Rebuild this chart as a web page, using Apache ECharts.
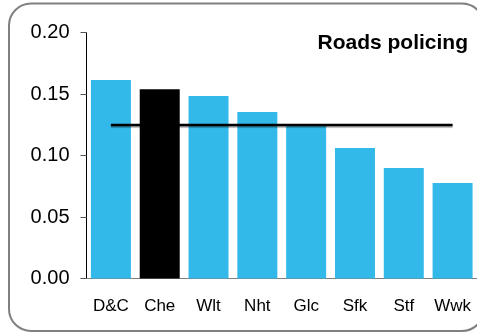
<!DOCTYPE html>
<html>
<head>
<meta charset="utf-8">
<script src="https://cdn.jsdelivr.net/npm/echarts@6/dist/echarts.min.js"></script>
<style>
html,body{margin:0;padding:0;background:#fff;}
#c{width:477px;height:333px;}
</style>
</head>
<body>
<div id="c"></div>
<script>
var categories = ['D&C', 'Che', 'Wlt', 'Nht', 'Glc', 'Sfk', 'Stf', 'Wwk'];
var values = [0.1615, 0.154, 0.1485, 0.1355, 0.124, 0.1062, 0.0899, 0.0777];
var highlightIndex = 1;
var averageValue = 0.125;
var averageLine = categories.map(function(){ return averageValue; });
var yTicks = [0, 0.05, 0.10, 0.15, 0.20];
var titleText = 'Roads policing';

var chart = echarts.init(document.getElementById('c'), null, {renderer: 'canvas'});
var barData = values.map(function(v, i){
  return i === highlightIndex ? {value: v, itemStyle: {color: '#000000'}} : v;
});
chart.setOption({
  animation: false,
  backgroundColor: '#ffffff',
  textStyle: {fontFamily: 'Liberation Sans, Arial, sans-serif'},
  graphic: [
    {type: 'rect', shape: {x: 9, y: 3.5, width: 475, height: 327.5, r: 22},
     style: {fill: 'none', stroke: '#808080', lineWidth: 2}, z: 100},
    {type: 'text', right: 9, top: 33,
     style: {text: titleText, fill: '#000', font: 'bold 21px "Liberation Sans", Arial, sans-serif'}, z: 100}
  ],
  grid: {left: 86.5, top: 32.7, width: 393, bottom: 54.5, containLabel: false},
  xAxis: {
    type: 'category', data: categories,
    axisTick: {show: false},
    axisLine: {lineStyle: {color: '#808080', width: 1}},
    axisLabel: {color: '#000', fontSize: 17, margin: 19, interval: 0, fontFamily: 'Liberation Sans'}
  },
  yAxis: {
    type: 'value', min: 0, max: 0.2, interval: 0.05,
    splitLine: {show: false},
    axisLine: {show: true, lineStyle: {color: '#000', width: 1}},
    axisTick: {show: true, length: 6, lineStyle: {color: '#555'}},
    axisLabel: {color: '#000', fontSize: 20, margin: 17, fontFamily: 'Liberation Sans',
      formatter: function(v){ return v.toFixed(2); }}
  },
  series: [
    {type: 'bar', data: barData, barWidth: 40, itemStyle: {color: '#33B9E9'}},
    {type: 'line', data: averageLine, symbol: 'none', z: 5,
     lineStyle: {color: '#000', width: 2.5, shadowColor: 'rgba(0,0,0,0.35)', shadowOffsetY: 1.5, shadowBlur: 1}}
  ]
});
</script>
</body>
</html>
